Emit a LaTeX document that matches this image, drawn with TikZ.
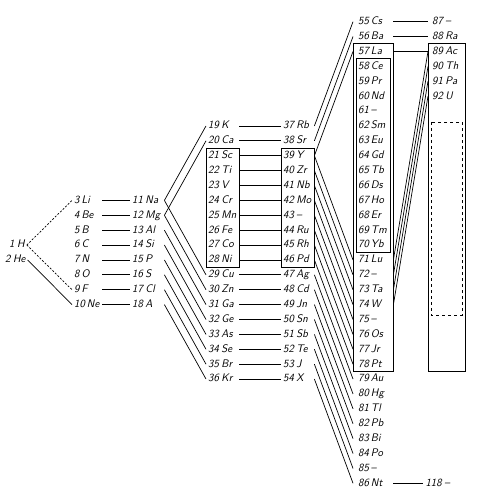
\documentclass[tikz,border=0pt]{standalone}
\usetikzlibrary{positioning}
\newcommand\rowy[1]{21.7+14.89*(#1)}

\begin{document}
\begin{tikzpicture}[
    x=1pt, y=-1pt,
    base/.style={anchor=west, inner xsep=2pt, inner ysep=2.55pt,
                 text height=7.8pt, text depth=2pt,
                 font=\fontsize{11}{13}\selectfont\sffamily\itshape},
    elem/.style={base, text width=#1, align=left},
    link/.style={line width=0.7pt},
    hlink/.style={link, dash pattern=on 2pt off 1.6pt},
    frame/.style={line width=0.7pt}
  ]
    \useasboundingbox (0,0) rectangle (483,497);

    % hydrogen, helium
    \node[base] (e1) at (7,{\rowy{15}}) {1\kern2.5pt H};
    \node[base] (e2) at (3,{\rowy{16}}) {2\kern2.5pt He};

    % element columns
    \foreach \n/\s in {3/Li,4/Be,5/B,6/C,7/N,8/O,9/F,10/Ne}
      \node[elem=26pt] (e\n) at (72,{\rowy{\n+9}}) {\n\kern2pt\s};
    \foreach \n/\s in {11/Na,12/Mg,13/Al,14/Si,15/P,16/S,17/Cl,18/A}
      \node[elem=30pt] (e\n) at (130,{\rowy{\n+1}}) {\n\kern2.5pt\s};
    \foreach \n/\s in {19/K,20/Ca,21/Sc,22/Ti,23/V,24/Cr,25/Mn,26/Fe,27/Co,
                       28/Ni,29/Cu,30/Zn,31/Ga,32/Ge,33/As,34/Se,35/Br,36/Kr}
      \node[elem=29pt] (e\n) at (206,{\rowy{\n-12}}) {\n\kern2.5pt\s};
    \foreach \n/\s in {37/Rb,38/Sr,39/Y,40/Zr,41/Nb,42/Mo,43/--,44/Ru,45/Rh,
                       46/Pd,47/Ag,48/Cd,49/Jn,50/Sn,51/Sb,52/Te,53/J,54/X}
      \node[elem=29pt] (e\n) at (281,{\rowy{\n-30}}) {\n\kern2.5pt\s};
    \foreach \n/\s in {55/Cs,56/Ba,57/La,58/Ce,59/Pr,60/Nd,61/--,62/Sm,63/Eu,
                       64/Gd,65/Tb,66/Ds,67/Ho,68/Er,69/Tm,70/Yb,71/Lu,72/--,
                       73/Ta,74/W,75/--,76/Os,77/Jr,78/Pt,79/Au,80/Hg,81/Tl,
                       82/Pb,83/Bi,84/Po,85/--,86/Nt}
      \node[elem=30pt, inner xsep=5pt] (e\n) at (353,{\rowy{\n-55}}) {\n\kern2pt\s};
    \foreach \n/\s in {87/--,88/Ra,89/Ac,90/Th,91/Pa,92/U}
      \node[elem=29pt, inner xsep=4pt] (e\n) at (428,{\rowy{\n-87}}) {\n\kern2.5pt\s};
    \node[base, right=30pt of e86] (e118) {118\kern2.5pt--};

    % frames
    \draw[frame] (e21.north west) rectangle (e28.south east);
    \draw[frame] (e39.north west) rectangle (e46.south east);
    \draw[frame] (e57.north west) rectangle (e78.south east);
    \draw[frame] ([xshift=3pt]e58.north west) rectangle ([xshift=-3pt]e70.south east);
    \draw[frame] (e89.north west) rectangle (e89.east |- e78.south);
    \draw[frame, dashed] (431,122) rectangle (462,315);

    % links
    \draw[hlink] (e1.east) -- (e3.west);
    \draw[hlink] (e1.east) -- (e9.west);
    \draw[link]  (e2.east) -- (e10.west);
    \foreach \a [evaluate=\a as \b using int(\a+8)] in {3,...,10}
      \draw[link] (e\a.east) -- (e\b.west);
    \foreach \a [evaluate=\a as \b using int(\a+8)] in {11,12}
      \draw[link] (e\a.east) -- (e\b.west);
    \foreach \a [evaluate=\a as \b using int(\a+18)] in {11,...,18}
      \draw[link] (e\a.east) -- (e\b.west);
    \foreach \a [evaluate=\a as \b using int(\a+18)] in {19,...,36}
      \draw[link] (e\a.east) -- (e\b.west);
    \foreach \a [evaluate=\a as \b using int(\a+18)] in {37,38,39}
      \draw[link] (e\a.east) -- (e\b.west);
    \foreach \a [evaluate=\a as \b using int(\a+32)] in {39,...,54}
      \draw[link] (e\a.east) -- (e\b.west);
    \foreach \a [evaluate=\a as \b using int(\a+32)] in {55,56,57}
      \draw[link] (e\a.east) -- (e\b.west);
    \foreach \a [evaluate=\a as \b using int(\a+18)] in {71,...,74}
      \draw[link] (e\a.east) -- (e\b.west);
    \draw[link] (e86.east) -- (e118.west);
\end{tikzpicture}
\end{document}
